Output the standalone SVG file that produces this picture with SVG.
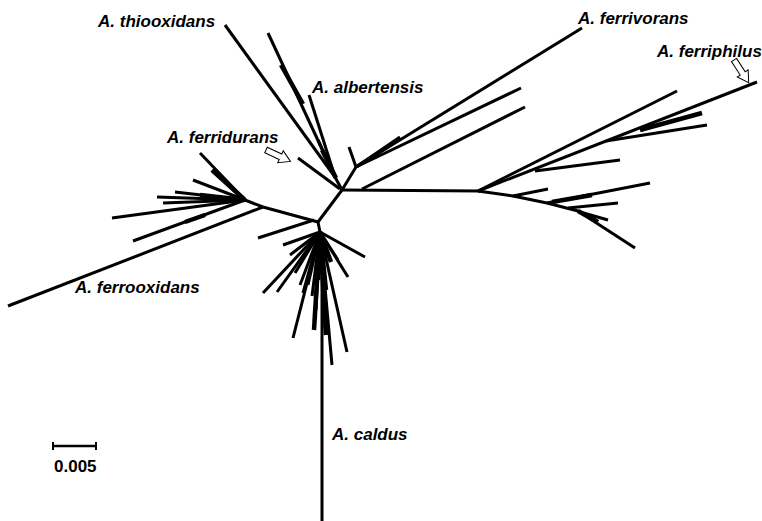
<svg xmlns="http://www.w3.org/2000/svg" width="762" height="521" viewBox="0 0 762 521">
<style>
.br{stroke:#000;stroke-width:3;fill:none;stroke-linecap:butt;stroke-linejoin:round}
.th{stroke:#000;stroke-width:4.5;fill:none}
.lb{font-family:"Liberation Sans",Arial,sans-serif;font-size:17px;font-weight:bold;font-style:italic;fill:#000}
.sc{font-family:"Liberation Sans",Arial,sans-serif;font-size:17px;font-weight:bold;fill:#000}
.ar{fill:#fff;stroke:#000;stroke-width:1}
</style>
<defs>
<polygon id="harrow" class="ar" points="0,-3 16,-3 16,-6.5 27,0 16,6.5 16,3 0,3"/>
</defs>
<rect width="762" height="521" fill="#fff"/>
<g id="connectors">
<!-- central -->
<path class="br" d="M342,190 L480,191"/>
<path class="br" d="M342,190 L318,222"/>
<path class="br" d="M342,190 L356,167"/>
<path class="br" d="M342,190 L335,177"/>
<!-- thiooxidans / albertensis -->
<path class="br" d="M335,177 L225,25"/>
<path class="br" d="M335,177 L268,33"/>
<path class="th" d="M281,65 L303,104"/>
<path class="br" d="M335,177 L309,95"/>
<path class="br" d="M335,177 L318,140"/>
<path class="th" d="M322,150 L336,178"/>
<!-- ferridurans -->
<path class="br" d="M298,158 L340,189"/>
<!-- ferrivorans -->
<path class="br" d="M356,167 L582,28"/>
<path class="br" d="M356,167 L521,88"/>
<path class="br" d="M356,167 L400,137"/>
<path class="br" d="M356,167 L395,142"/>
<path class="br" d="M356,167 L388,147"/>
<path class="br" d="M349,147 L356,167"/>
<path class="br" d="M362,189 L525,107"/>
<!-- ferriphilus clade -->
<path class="br" d="M478,191 L677,91"/>
<path class="br" d="M478,191 L757,82"/>
<path class="br" d="M535,171 L620,160"/>
<path class="br" d="M606,141 L707,125"/>
<path class="th" d="M640,130 L702,113"/>
<path class="br" d="M478,191 L513,196 L547,203 L578,211 L635,248"/>
<path class="br" d="M513,196 L548,189"/>
<path class="br" d="M547,203 L650,183"/>
<path class="th" d="M552,202 L592,195"/>
<path class="br" d="M568,208 L618,203"/>
<path class="br" d="M580,212 L608,220"/>
<path class="th" d="M578,211 L598,222"/>
<!-- ferrooxidans clade -->
<path class="br" d="M318,222 L263,207"/>
<path class="br" d="M263,207 L8,306"/>
<path class="br" d="M263,207 L245,200"/>
<path class="br" d="M245,200 L112,218"/>
<path class="br" d="M245,200 L133,241"/>
<path class="th" d="M185,222 L205,215"/>
<path class="br" d="M245,200 L157,197"/>
<path class="br" d="M245,200 L163,203"/>
<path class="br" d="M245,200 L175,192"/>
<path class="th" d="M245,200 L200,195"/>
<path class="br" d="M245,200 L200,153"/>
<path class="th" d="M245,200 L212,170"/>
<path class="br" d="M245,200 L193,180"/>
<path class="br" d="M258,238 L314,220"/>
<!-- caldus clade -->
<path class="br" d="M318,222 L320,232"/>
<path class="br" d="M322,234 L322,521"/>
<path class="br" d="M320,232 L365,257"/>
<path class="br" d="M320,232 L348,277"/>
<path class="br" d="M320,232 L263,293"/>
<path class="br" d="M320,232 L277,292"/>
<path class="br" d="M320,232 L283,245"/>
<path class="br" d="M320,232 L293,338"/>
<path class="br" d="M320,232 L332,365"/>
<path class="br" d="M320,232 L347,352"/>
<path class="br" d="M320,232 L303,293"/>
<path class="br" d="M320,232 L312,296"/>
<path class="br" d="M320,232 L295,273"/>
<path class="br" d="M320,232 L316,310"/>
<path class="br" d="M320,232 L327,320"/>
<path class="br" d="M320,232 L308,285"/>
<path class="br" d="M320,232 L290,255"/>
<path class="br" d="M320,232 L338,260"/>
<path class="th" d="M320,232 L318,280"/>
<path class="th" d="M320,232 L326,290"/>
<path class="th" d="M320,232 L331,262"/>
<path class="th" d="M320,232 L314,330"/>
<path class="th" d="M320,232 L326,335"/>
<path class="br" d="M320,232 L300,285"/>
</g>
<g id="labels">
<text class="lb" x="98" y="27">A. thiooxidans</text>
<text class="lb" x="312" y="93">A. albertensis</text>
<text class="lb" x="578" y="24">A. ferrivorans</text>
<text class="lb" x="657" y="57">A. ferriphilus</text>
<text class="lb" x="167" y="143">A. ferridurans</text>
<text class="lb" x="75" y="293">A. ferrooxidans</text>
<text class="lb" x="332" y="440">A. caldus</text>
</g>
<g id="arrows">
<use href="#harrow" transform="translate(266,150) rotate(25)"/>
<use href="#harrow" transform="translate(734,60) rotate(57)"/>
</g>
<g id="scale">
<path class="br" d="M53,446 L96,446" style="stroke-width:2.5"/>
<path class="br" d="M53,442 L53,450 M96,442 L96,450" style="stroke-width:2"/>
<text class="sc" x="54" y="472">0.005</text>
</g>
</svg>
